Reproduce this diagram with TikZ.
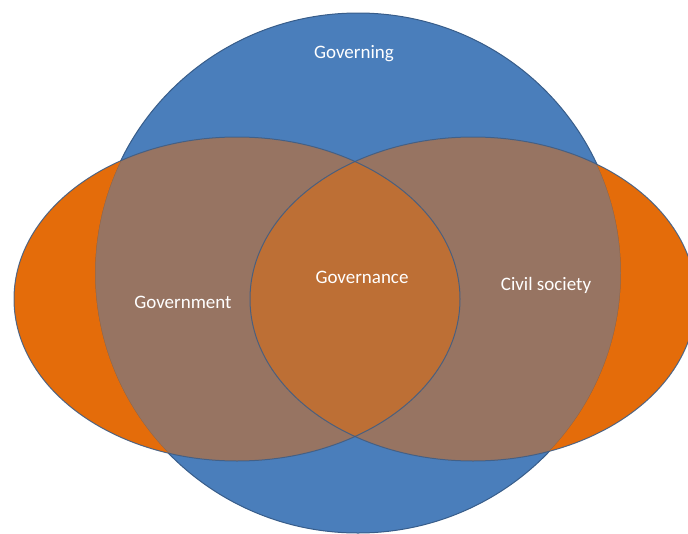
\documentclass[tikz,border=0pt]{standalone}
\usepackage{fontspec}
\setmainfont{Carlito}
\definecolor{vblue}{RGB}{74,126,187}
\definecolor{vborder}{RGB}{56,93,138}
\definecolor{vorange}{RGB}{228,108,10}
\tikzset{
  lbl/.style={text=white, font=\fontsize{19}{22}\selectfont, inner sep=0pt},
  ring/.style={draw=vborder, line width=1pt}
}
\begin{document}
\begin{tikzpicture}[x=1pt,y=-1pt]
\useasboundingbox (0,0) rectangle (688,533);
\def\blue{(358,273) ellipse [x radius=263, y radius=260]}
\def\lell{(237,299) ellipse [x radius=223, y radius=162]}
\def\rell{(473,299) ellipse [x radius=223, y radius=162]}
% governing circle
\fill[vblue] \blue;
\draw[ring] \blue;
% semi-transparent ellipses over the circle
\fill[vorange, fill opacity=0.5] \lell;
\fill[vorange, fill opacity=0.5] \rell;
% parts of ellipses outside the circle are solid orange
\begin{scope}
  \clip \lell;
  \fill[vorange, even odd rule] \lell \blue;
\end{scope}
\begin{scope}
  \clip \rell;
  \fill[vorange, even odd rule] \rell \blue;
\end{scope}
\draw[ring, draw opacity=0.85] \lell;
\draw[ring, draw opacity=0.85] \rell;
% labels
\node[lbl] (governing) at (354,54) {Governing};
\node[lbl] (government) at (183,302) {Government};
\node[lbl] (governance) at (362,277) {Governance};
\node[lbl] (civil) at (546,285) {Civil society};
\end{tikzpicture}
\end{document}
